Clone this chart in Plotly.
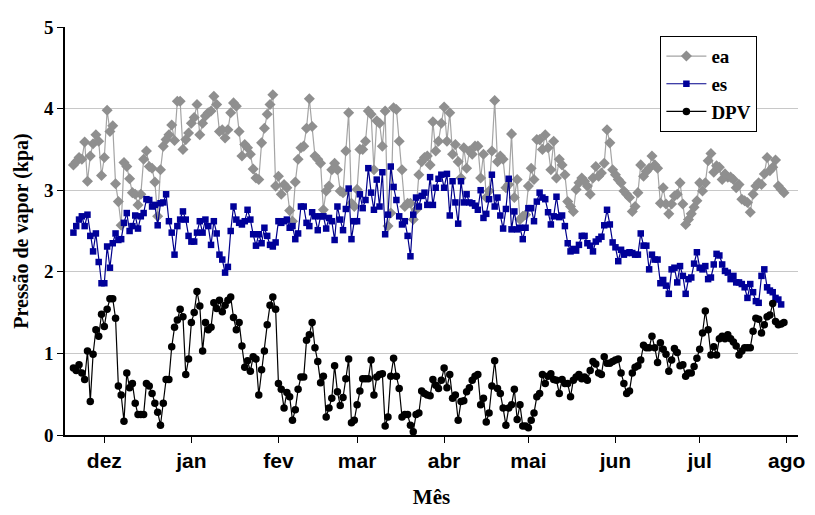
import pandas as pd
import plotly.graph_objects as go

# ---- data (daily values) ----
start_date = "2010-11-20"

ea = [3.31, 3.35, 3.40, 3.38, 3.59, 3.11, 3.42, 3.57, 3.68, 3.60,
      3.18, 3.40, 3.98, 3.72, 3.79, 3.08, 2.86, 2.57, 3.34, 3.29,
      3.14, 2.97, 2.95, 2.82, 2.95, 3.38, 3.48, 3.29, 3.27, 3.10,
      2.68, 3.25, 3.54, 3.62, 3.68, 3.80, 3.61, 4.09, 4.09, 3.50,
      3.62, 3.70, 3.82, 3.89, 4.05, 3.68, 3.82, 3.91, 3.95, 3.97,
      4.15, 4.05, 3.72, 3.74, 3.64, 3.74, 3.95, 4.07, 4.03, 3.72,
      3.42, 3.56, 3.52, 3.44, 3.26, 3.15, 3.13, 3.58, 3.76, 3.93,
      4.05, 4.17, 3.05, 3.17, 2.95, 3.07, 3.03, 2.75, 2.62, 3.10,
      3.38, 3.52, 3.54, 3.76,
      4.12, 3.78, 3.42, 3.38, 3.33, 2.76, 2.99, 3.05, 3.25, 3.33,
      3.25, 2.99, 2.97, 3.48, 3.95, 2.84, 2.80, 3.01, 3.50, 3.50,
      3.60, 3.97, 3.93, 3.25, 3.85, 3.82, 3.54, 3.97, 2.56, 2.72,
      4.01, 3.99, 3.60, 3.25, 2.80, 2.84, 2.84, 2.64, 2.76, 3.19,
      3.35, 3.40, 3.42,
      3.31, 3.84, 3.48, 3.60, 3.82, 4.02, 3.60, 3.95, 3.44, 3.56,
      3.35, 3.15, 3.52, 3.27, 3.48, 3.44, 3.54, 3.54, 3.15, 3.44,
      2.91, 2.99, 3.48, 4.10, 3.35, 3.42, 3.38, 3.03, 3.07, 3.69,
      2.91, 3.13, 2.64, 2.68, 2.70, 3.05, 3.27, 3.13, 3.62, 3.62,
      3.50,
      3.68, 3.52, 3.25, 3.60, 3.15, 3.38, 3.31, 3.19, 2.86, 2.80,
      2.74, 3.01, 3.09, 3.15, 3.11, 3.05, 2.95, 3.15, 3.29, 3.17,
      3.21, 3.33, 3.74, 3.58, 3.25, 3.19, 3.13, 3.09, 2.99, 2.95,
      2.91, 2.74, 2.80, 2.97, 3.31, 3.17, 3.23, 3.27, 3.42, 3.31,
      3.27, 2.84,
      3.03, 2.83, 2.71, 2.83, 2.93, 2.95, 3.09, 2.83, 2.58, 2.64,
      2.71, 2.79, 2.87, 3.09, 2.99, 3.09, 3.36, 3.45, 3.22, 3.30,
      3.28, 3.13, 3.20, 3.16, 3.16, 3.13, 3.03, 3.07, 2.89, 2.87,
      2.85, 2.73, 2.95, 3.05, 3.09, 3.07, 3.20, 3.40, 3.24, 3.28,
      3.37, 3.05, 3.01, 2.97]

es = [2.48, 2.56, 2.64, 2.68, 2.56, 2.70, 2.44, 2.25, 2.47, 2.12,
      1.86, 1.86, 2.31, 2.05, 2.35, 2.47, 2.39, 2.40, 2.60, 2.72,
      2.50, 2.56, 2.69, 2.53, 2.68, 2.72, 2.89, 2.88, 2.80, 2.82,
      2.57, 2.84, 2.85, 2.95, 2.62, 2.48, 2.21, 2.56, 2.64, 2.74,
      2.64, 2.44, 2.37, 2.37, 2.48, 2.62, 2.48, 2.64, 2.56, 2.33,
      2.62, 2.47, 2.21, 2.15, 1.99, 2.06, 2.50, 2.80, 2.64, 2.60,
      2.58, 2.62, 2.76, 2.64, 2.46, 2.32, 2.46, 2.35, 2.54, 2.44,
      2.33, 2.31, 2.36, 2.62, 2.60, 2.62, 2.64, 2.54, 2.56, 2.40,
      2.47, 2.80, 2.80, 2.60,
      2.56, 2.73, 2.68, 2.51, 2.68, 2.68, 2.53, 2.66, 2.62, 2.39,
      2.80, 2.64, 2.51, 2.77, 3.02, 2.40, 2.62, 2.62, 2.95, 2.78,
      2.88, 3.27, 2.97, 2.76, 3.13, 2.80, 3.22, 2.46, 2.70, 3.29,
      3.04, 2.88, 2.68, 2.58, 2.62, 2.44, 2.19, 2.70, 2.91, 2.80,
      2.93, 2.97,
      2.82, 3.16, 2.82, 3.03, 3.14, 3.19, 3.03, 3.20, 2.69, 3.11,
      2.85, 2.59, 3.11, 2.85, 2.95, 2.85, 2.84, 2.81, 2.76, 3.00,
      2.66, 2.71, 2.89, 3.19, 2.80, 2.91, 2.69, 2.53, 2.77, 3.14,
      2.52, 2.74, 2.52, 2.54, 2.40, 2.54, 2.78, 2.78, 2.62, 2.86,
      2.97, 2.91,
      2.89, 2.73, 2.58, 2.68, 2.92, 2.67, 2.69, 2.56, 2.35, 2.25,
      2.28, 2.26, 2.33, 2.44, 2.44, 2.35, 2.32, 2.25, 2.37, 2.40,
      2.43, 2.57, 2.76, 2.58, 2.36, 2.30, 2.13, 2.27, 2.21, 2.23,
      2.24, 2.23, 2.21, 2.21, 2.47, 2.32, 2.32, 2.03, 2.21, 2.15,
      2.15, 1.86,
      1.90, 1.83, 1.73, 2.03, 2.05, 1.87, 2.07, 1.95, 1.73, 1.91,
      1.93, 2.10, 2.24, 2.05, 2.03, 2.07, 1.91, 1.93, 2.09, 2.22,
      2.20, 2.09, 2.01, 1.99, 1.91, 1.95, 1.87, 1.87, 1.85, 1.81,
      1.68, 1.85, 1.75, 1.64, 1.62, 1.95, 2.03, 1.81, 1.77, 1.75,
      1.68, 1.66, 1.60]

dpv = [0.82, 0.79, 0.86, 0.76, 0.68, 1.03, 0.41, 0.99, 1.29, 1.21,
       1.48, 1.33, 1.54, 1.67, 1.67, 1.43, 0.60, 0.49, 0.17, 0.76,
       0.58, 0.63, 0.39, 0.25, 0.25, 0.25, 0.63, 0.60, 0.51, 0.39,
       0.28, 0.12, 0.39, 0.68, 0.68, 1.08, 1.32, 1.41, 1.54, 1.45,
       0.74, 0.93, 1.38, 1.50, 1.76, 1.58, 1.03, 1.38, 1.29, 1.32,
       1.62, 1.55, 1.65, 1.51, 1.59, 1.65, 1.69, 1.44, 1.29, 1.38,
       1.09, 0.83, 0.91,
       0.78, 0.96, 0.93, 0.49, 0.80, 1.03, 1.35, 1.59, 1.69, 1.54,
       0.63, 0.56, 0.33, 0.52, 0.47, 0.18, 0.31, 0.56, 0.71, 0.71,
       1.16, 1.23, 1.38, 1.07, 0.90, 0.64, 0.72, 0.22, 0.33, 0.45,
       0.85, 0.53, 0.36, 0.46, 0.69, 0.93, 0.15, 0.18, 0.37, 0.54,
       0.69, 0.69, 0.69, 0.92, 0.49, 0.71, 0.74, 0.75, 0.11, 0.22,
       0.72, 0.94, 0.72, 0.57, 0.22, 0.25, 0.25, 0.12, 0.04, 0.25,
       0.27, 0.54, 0.51,
       0.49, 0.48, 0.68, 0.61, 0.57, 0.67, 0.82, 0.58, 0.74, 0.45,
       0.49, 0.18, 0.41, 0.42, 0.53, 0.58, 0.67, 0.72, 0.74, 0.37,
       0.45, 0.16, 0.27, 0.60, 0.91, 0.57, 0.51, 0.33, 0.12, 0.33,
       0.37, 0.56, 0.19, 0.37, 0.11, 0.11, 0.09, 0.18, 0.27, 0.47,
       0.51, 0.74, 0.63, 0.72, 0.75, 0.68, 0.67, 0.51, 0.68, 0.63,
       0.63, 0.47, 0.67, 0.71, 0.74, 0.69, 0.71, 0.67, 0.79, 0.90,
       0.87, 0.76, 0.74, 0.96,
       0.88, 0.88, 0.90, 0.92, 0.93, 0.76, 0.63, 0.51, 0.54, 0.76,
       0.83, 0.85, 0.92, 1.10, 1.07, 1.07, 1.21, 1.07, 0.89, 1.13,
       1.05, 0.99, 0.78, 0.92, 1.06, 1.01, 0.85, 0.86, 0.72, 0.76,
       0.76, 0.84, 0.94, 1.05, 1.25, 1.52, 1.29, 0.98, 1.08, 0.98,
       1.18, 1.21, 1.18, 1.23, 1.18, 1.14, 1.09, 0.98, 1.03, 1.07,
       1.07, 1.07, 1.27, 1.43, 1.42, 1.25, 1.35, 1.45, 1.47, 1.61,
       1.39, 1.35, 1.36, 1.38]

month_ticks = ["2010-12-01", "2011-01-01", "2011-02-01", "2011-03-01", "2011-04-01",
               "2011-05-01", "2011-06-01", "2011-07-01", "2011-08-01"]
month_labels = ["dez", "jan", "fev", "mar", "abr", "mai", "jun", "jul", "ago"]
y_ticks = [0, 1, 2, 3, 4, 5]

# ---- figure ----
def dates(n):
    return pd.date_range(start_date, periods=n, freq="D")

serif = "Liberation Serif, Times New Roman, serif"
narrow = "Liberation Sans Narrow, Arial Narrow, Liberation Sans, sans-serif"

fig = go.Figure()
fig.add_trace(go.Scatter(
    x=dates(len(ea)), y=ea, name="ea", mode="lines+markers",
    line=dict(color="#a4a4a4", width=1.2),
    marker=dict(symbol="diamond", size=8.5, color="#8f8f8f"),
))
fig.add_trace(go.Scatter(
    x=dates(len(es)), y=es, name="es", mode="lines+markers",
    line=dict(color="#00008b", width=1.2),
    marker=dict(symbol="square", size=6.5, color="#000099"),
))
fig.add_trace(go.Scatter(
    x=dates(len(dpv)), y=dpv, name="DPV", mode="lines+markers",
    line=dict(color="#000000", width=1.2),
    marker=dict(symbol="circle", size=7.5, color="#000000"),
))

fig.update_layout(
    width=815, height=515,
    margin=dict(l=65, r=10, t=27, b=80),
    paper_bgcolor="white", plot_bgcolor="white",
    showlegend=True,
    legend=dict(
        x=0.812, y=0.978, xanchor="left", yanchor="top",
        bordercolor="black", borderwidth=1.2, bgcolor="white",
        font=dict(family=serif, size=19, color="black", weight="bold"),
        tracegroupgap=0, itemwidth=40,
    ),
    xaxis=dict(
        range=["2010-11-17", "2011-08-05"],
        tickvals=month_ticks, ticktext=month_labels,
        ticks="outside", ticklen=6, tickcolor="black", tickwidth=1,
        showline=True, linecolor="black", linewidth=1.5,
        showgrid=False, zeroline=False,
        tickfont=dict(family=narrow, size=21, color="black", weight="bold"),
        title=dict(text="Mês", font=dict(family=serif, size=21, color="black", weight="bold"),
                   standoff=18),
    ),
    yaxis=dict(
        range=[0, 5], tickvals=y_ticks,
        ticks="outside", ticklen=6, tickcolor="black", tickwidth=1,
        showline=True, linecolor="black", linewidth=1.5,
        showgrid=True, gridcolor="#c8c8c8", gridwidth=1.2, zeroline=False,
        tickfont=dict(family=serif, size=19, color="black", weight="bold"),
        title=dict(text="Pressão de vapor (kpa)",
                   font=dict(family=serif, size=20, color="black", weight="bold"),
                   standoff=10),
    ),
)

fig.write_html("out.html")
